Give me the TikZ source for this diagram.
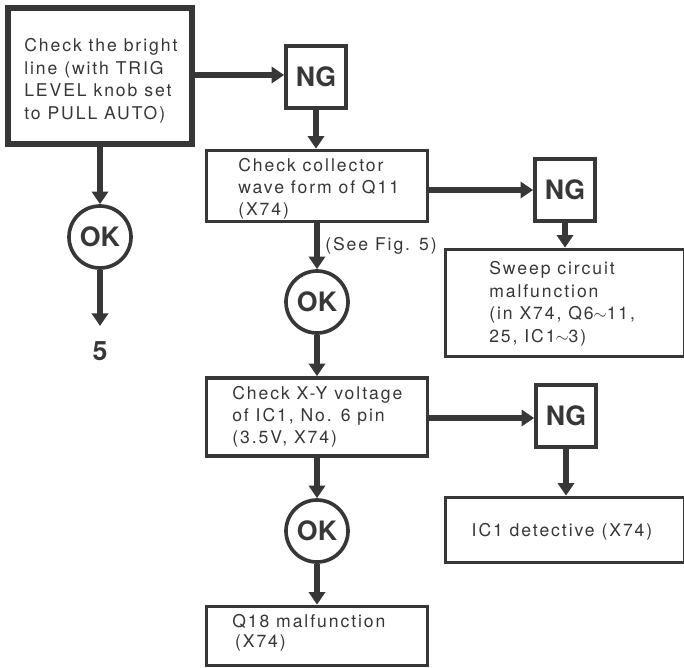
\documentclass[tikz,border=0pt]{standalone}
\usepackage{fontspec}
\setmainfont{TeX Gyre Heros}[LetterSpace=11]
\newfontfamily\markfont{TeX Gyre Heros}
\usetikzlibrary{arrows.meta}
\definecolor{ink}{RGB}{55,55,55}
\begin{document}
\begin{tikzpicture}[x=0.025cm,y=-0.025cm,
    every node/.style={text=ink},
    checkbox/.style={draw=ink,line width=2.6pt,fill=white,inner sep=0pt},
    boxtext/.style={anchor=west,align=left,inner sep=0pt,
      font=\fontsize{12.5}{16}\selectfont},
    ngbox/.style={draw=ink,line width=2.6pt,minimum width=1.5cm,minimum height=1.55cm,
      font=\markfont\fontsize{19}{20}\selectfont\bfseries},
    okcircle/.style={draw=ink,line width=2.6pt,circle,minimum size=1.55cm,inner sep=0pt,
      font=\markfont\fontsize{19}{20}\selectfont\bfseries},
    flow/.style={draw=ink,line width=4.2pt,-{Triangle[length=9pt,width=11.5pt]}}]
  \useasboundingbox (0,0) rectangle (684,667);
  % first check
  \node[checkbox,line width=4.5pt,minimum width=4.6cm,minimum height=3.4cm] (bright) at (100,76) {};
  \node[boxtext] (brighttxt) at (24,81)
    {Check the bright\\line (with TRIG\\LEVEL knob set\\to PULL AUTO)};
  \node[ngbox] (ng1) at (316,77) {NG};
  \node[okcircle] (ok1) at (100,237) {OK};
  \coordinate (five) at (100,326);
  \node[font=\markfont\fontsize{19}{20}\selectfont\bfseries] (fivelbl) at (100,351) {5};
  % collector wave form
  \node[checkbox,minimum width=5.525cm,minimum height=1.775cm] (coll) at (317,186) {};
  \node[boxtext,font=\fontsize{12.5}{15.5}\selectfont] (colltxt) at (238,189)
    {Check collector\\wave form of Q11\\(X74)};
  \node[ngbox] (ng2) at (565,190) {NG};
  \node[checkbox,minimum width=5.975cm,minimum height=2.675cm] (sweep) at (565,303) {};
  \node[boxtext] (sweeptxt) at (489,304)
    {Sweep circuit\\malfunction\\(in X74, Q6$\sim$11,\\25, IC1$\sim$3)};
  \node[okcircle] (ok2) at (317,302) {OK};
  \node[boxtext] (seefig) at (325,246) {(See Fig. 5)};
  % X-Y voltage
  \node[checkbox,minimum width=5.525cm,minimum height=1.95cm] (xy) at (317,417) {};
  \node[boxtext,font=\fontsize{12.5}{15.5}\selectfont] (xytxt) at (232,417)
    {Check X-Y voltage\\of IC1, No. 6 pin\\(3.5V, X74)};
  \node[ngbox] (ng3) at (566,416) {NG};
  \node[checkbox,minimum width=5.975cm,minimum height=1.625cm] (ic1) at (565,530) {};
  \node[boxtext,anchor=center] (ic1txt) at (562,532) {IC1 detective (X74)};
  \node[okcircle] (ok3) at (317,531) {OK};
  \node[checkbox,minimum width=5.525cm,minimum height=1.475cm] (q18) at (317,636) {};
  \node[boxtext,font=\fontsize{12.5}{14.5}\selectfont] (q18txt) at (232,633)
    {Q18 malfunction\\\hspace{2pt}(X74)};
  % connectors
  \draw[flow] (bright.east |- 0,75) -- (ng1.west |- 0,75);
  \draw[flow] (ng1) -- (ng1 |- coll.north);
  \draw[flow] (bright) -- (ok1);
  \draw[flow] (ok1) -- (five);
  \draw[flow] (coll.east |- 0,190) -- (ng2);
  \draw[flow] (ng2) -- (ng2 |- sweep.north);
  \draw[flow] (coll) -- (ok2);
  \draw[flow] (ok2) -- (xy);
  \draw[flow] (xy.east |- 0,418) -- (ng3.west |- 0,418);
  \draw[flow] (ng3) -- (ng3 |- ic1.north);
  \draw[flow] (xy) -- (ok3);
  \draw[flow] (ok3) -- (q18);
\end{tikzpicture}
\end{document}
